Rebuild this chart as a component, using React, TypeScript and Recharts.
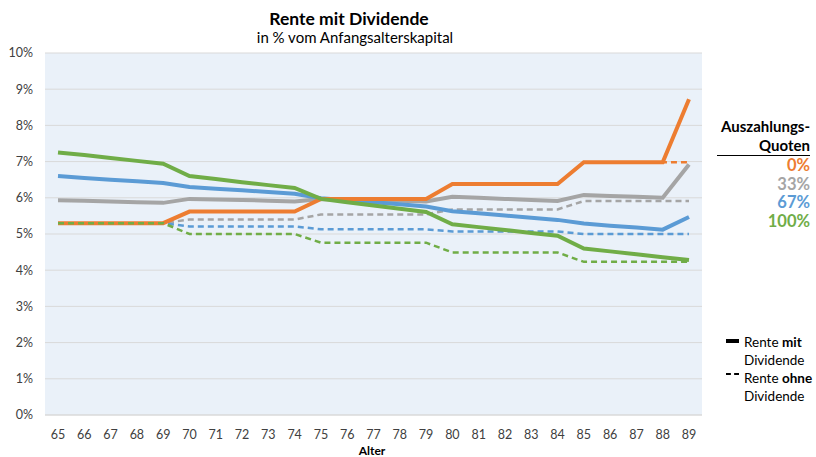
import React from "react";
import { LineChart, Line, XAxis, YAxis, CartesianGrid } from "recharts";

const ages = [65, 66, 67, 68, 69, 70, 71, 72, 73, 74, 75, 76, 77, 78, 79, 80, 81, 82, 83, 84, 85, 86, 87, 88, 89];

const q0Mit = [5.3, 5.3, 5.3, 5.3, 5.3, 5.62, 5.62, 5.62, 5.62, 5.62, 5.97, 5.97, 5.97, 5.97, 5.97, 6.38, 6.38, 6.38, 6.38, 6.38, 6.98, 6.98, 6.98, 6.98, 8.72];
const q0Ohne = [5.3, 5.3, 5.3, 5.3, 5.3, 5.62, 5.62, 5.62, 5.62, 5.62, 5.97, 5.97, 5.97, 5.97, 5.97, 6.38, 6.38, 6.38, 6.38, 6.38, 6.98, 6.98, 6.98, 6.98, 6.98];
const q33Mit = [5.93, 5.92, 5.9, 5.88, 5.86, 5.97, 5.95, 5.94, 5.92, 5.9, 5.97, 5.95, 5.93, 5.92, 5.9, 6.03, 6.0, 5.97, 5.94, 5.91, 6.08, 6.05, 6.03, 6.0, 6.92];
const q33Ohne = [5.3, 5.3, 5.3, 5.3, 5.3, 5.4, 5.4, 5.4, 5.4, 5.4, 5.54, 5.54, 5.54, 5.54, 5.54, 5.68, 5.68, 5.68, 5.68, 5.68, 5.91, 5.91, 5.91, 5.91, 5.91];
const q67Mit = [6.6, 6.55, 6.5, 6.46, 6.41, 6.3, 6.25, 6.21, 6.16, 6.11, 5.99, 5.93, 5.88, 5.82, 5.76, 5.63, 5.57, 5.51, 5.45, 5.39, 5.29, 5.23, 5.18, 5.12, 5.47];
const q67Ohne = [5.3, 5.3, 5.3, 5.3, 5.3, 5.21, 5.21, 5.21, 5.21, 5.21, 5.13, 5.13, 5.13, 5.13, 5.13, 5.07, 5.07, 5.07, 5.07, 5.07, 5.0, 5.0, 5.0, 5.0, 5.0];
const q100Mit = [7.25, 7.18, 7.1, 7.02, 6.94, 6.6, 6.52, 6.43, 6.35, 6.27, 5.97, 5.88, 5.79, 5.7, 5.61, 5.27, 5.19, 5.11, 5.03, 4.95, 4.6, 4.52, 4.44, 4.36, 4.28];
const q100Ohne = [5.3, 5.3, 5.3, 5.3, 5.3, 5.0, 5.0, 5.0, 5.0, 5.0, 4.76, 4.76, 4.76, 4.76, 4.76, 4.49, 4.49, 4.49, 4.49, 4.49, 4.23, 4.23, 4.23, 4.23, 4.23];

const yTicks = [0, 1, 2, 3, 4, 5, 6, 7, 8, 9, 10];
const quoten = ["0%", "33%", "67%", "100%"];

const ORANGE = "#ED7D31";
const GRAY = "#A5A5A5";
const BLUE = "#5B9BD5";
const GREEN = "#70AD47";
const quoteColors = [ORANGE, GRAY, BLUE, GREEN];

const data = ages.map((a, i) => ({
  age: a,
  q0Mit: q0Mit[i],
  q0Ohne: q0Ohne[i],
  q33Mit: q33Mit[i],
  q33Ohne: q33Ohne[i],
  q67Mit: q67Mit[i],
  q67Ohne: q67Ohne[i],
  q100Mit: q100Mit[i],
  q100Ohne: q100Ohne[i],
}));

const FONT = "Lato, 'Open Sans', sans-serif";

export default function App() {
  const solidW = 4;
  const dashW = 2.5;
  const dash = "6 4";
  return (
    <div style={{ position: "absolute", left: 0, top: 0, width: 816, height: 457, background: "#fff", fontFamily: FONT, overflow: "hidden" }}>
      <LineChart width={816} height={457} data={data} margin={{ top: 53, right: 114, bottom: 12, left: 5 }}>
        <CartesianGrid vertical={false} stroke="#D9D9D9" fill="#EAF1F9" fillOpacity={1} />
        <XAxis
          dataKey="age"
          height={30}
          interval={0}
          padding={{ left: 13, right: 13 }}
          tickLine={false}
          axisLine={{ stroke: "#D9D9D9" }}
          tick={{ fill: "#404040", fontSize: 12.5, fontFamily: FONT }}
          tickMargin={9}
        />
        <YAxis
          width={40}
          domain={[0, 10]}
          ticks={yTicks}
          interval={0}
          tickFormatter={(v: number) => `${v}%`}
          tickLine={false}
          axisLine={false}
          tick={{ fill: "#404040", fontSize: 12.5, fontFamily: FONT }}
          tickMargin={6}
        />
        <Line dataKey="q0Ohne" stroke={ORANGE} strokeWidth={dashW} strokeDasharray={dash} dot={false} isAnimationActive={false} />
        <Line dataKey="q33Mit" stroke={GRAY} strokeWidth={solidW} dot={false} isAnimationActive={false} />
        <Line dataKey="q33Ohne" stroke={GRAY} strokeWidth={dashW} strokeDasharray={dash} dot={false} isAnimationActive={false} />
        <Line dataKey="q67Mit" stroke={BLUE} strokeWidth={solidW} dot={false} isAnimationActive={false} />
        <Line dataKey="q67Ohne" stroke={BLUE} strokeWidth={dashW} strokeDasharray={dash} dot={false} isAnimationActive={false} />
        <Line dataKey="q0Mit" stroke={ORANGE} strokeWidth={solidW} dot={false} isAnimationActive={false} />
        <Line dataKey="q100Mit" stroke={GREEN} strokeWidth={solidW} dot={false} isAnimationActive={false} />
        <Line dataKey="q100Ohne" stroke={GREEN} strokeWidth={dashW} strokeDasharray={dash} dot={false} isAnimationActive={false} />
      </LineChart>

      <div style={{ position: "absolute", left: 0, width: 704, top: 9, textAlign: "center", color: "#000" }}>
        <div style={{ fontSize: 17.5, fontWeight: 700, lineHeight: "20px", marginLeft: -6 }}>Rente mit Dividende</div>
        <div style={{ fontSize: 15, lineHeight: "17px", marginLeft: 6 }}>in % vom Anfangsalterskapital</div>
      </div>

      <div style={{ position: "absolute", left: 332, top: 444, width: 80, textAlign: "center", fontSize: 12, lineHeight: "13px", fontWeight: 700, color: "#000" }}>Alter</div>

      <div style={{ position: "absolute", right: 6, top: 117, textAlign: "right", fontSize: 15, fontWeight: 700, lineHeight: "19px" }}>
        <div style={{ color: "#000" }}>Auszahlungs-</div>
        <div style={{ color: "#000", borderBottom: "1.5px solid #000", marginLeft: -4, paddingBottom: 0 }}>Quoten</div>
        {quoten.map((q, i) => (
          <div key={q} style={{ color: quoteColors[i], fontSize: 16.5, lineHeight: "18.5px" }}>{q}</div>
        ))}
      </div>

      <div style={{ position: "absolute", left: 726, top: 333, fontSize: 13.5, lineHeight: "18px", color: "#000" }}>
        <div style={{ position: "absolute", left: 0, top: 6, width: 13, height: 4, background: "#000" }} />
        <div style={{ position: "absolute", left: 0, top: 40, width: 13, height: 0, borderTop: "2px dashed #000" }} />
        <div style={{ paddingLeft: 18 }}>Rente <b>mit</b></div>
        <div style={{ paddingLeft: 18 }}>Dividende</div>
        <div style={{ paddingLeft: 18 }}>Rente <b>ohne</b></div>
        <div style={{ paddingLeft: 18 }}>Dividende</div>
      </div>
    </div>
  );
}
